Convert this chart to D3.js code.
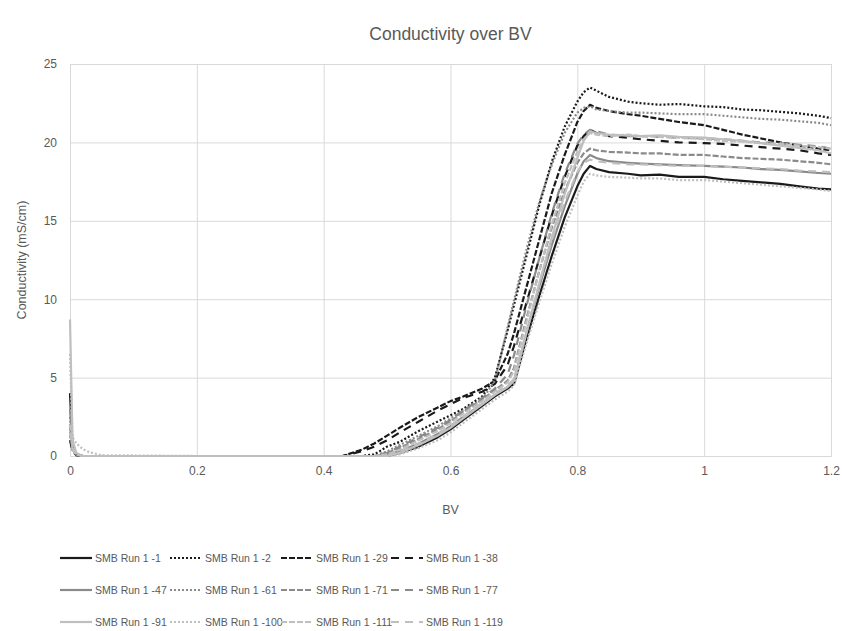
<!DOCTYPE html>
<html>
<head>
<meta charset="utf-8">
<script src="https://cdn.jsdelivr.net/npm/d3@7"></script>
<style>
  body { margin: 0; background: #fff; }
  text { font-family: "Liberation Sans", Arial, sans-serif; fill: #595959; }
</style>
</head>
<body>
<svg width="842" height="631"></svg>
<script>
// BV sample points shared by every run
const bv = [0, 0.004, 0.01, 0.02, 0.03, 0.05, 0.2, 0.4, 0.43, 0.46, 0.48, 0.5, 0.52, 0.55, 0.58, 0.6, 0.62, 0.65, 0.67, 0.69, 0.7,
  0.72, 0.74, 0.76, 0.78, 0.8, 0.81, 0.82, 0.83, 0.85, 0.88, 0.9, 0.93, 0.96, 1.0, 1.03, 1.06, 1.09, 1.12, 1.15, 1.18, 1.2];

// conductivity (mS/cm) per run
const run1 = [4.0, 0.6, 0.1, 0, 0, 0, 0, 0, 0, 0, 0, 0, 0.2, 0.6, 1.2, 1.7, 2.3, 3.2, 3.8, 4.3, 4.6,
  7.5, 10.2, 12.8, 15.2, 17.2, 18.0, 18.5, 18.3, 18.1, 18.0, 17.9, 17.95, 17.8, 17.8, 17.65, 17.55, 17.45, 17.35, 17.2, 17.05, 17.0];
const run2 = [1.5, 0.4, 0.05, 0, 0, 0, 0, 0, 0, 0, 0.1, 0.6, 0.9, 1.6, 2.2, 2.6, 3.0, 3.8, 5.0, 8.0, 9.6,
  12.8, 16.0, 18.8, 21.0, 22.6, 23.2, 23.5, 23.3, 22.9, 22.6, 22.5, 22.4, 22.45, 22.3, 22.25, 22.1, 22.05, 21.95, 21.85, 21.7, 21.55];
const run29 = [2.0, 0.5, 0.05, 0, 0, 0, 0, 0, 0, 0.4, 0.8, 1.3, 1.8, 2.5, 3.1, 3.5, 3.8, 4.3, 4.8, 6.5, 7.8,
  10.8, 13.8, 16.8, 19.2, 21.3, 22.0, 22.4, 22.2, 22.0, 21.8, 21.7, 21.5, 21.3, 21.1, 20.8, 20.5, 20.25, 20.0, 19.8, 19.6, 19.5];
const run38 = [1.0, 0.3, 0.05, 0, 0, 0, 0, 0, 0, 0.3, 0.6, 1.0, 1.5, 2.2, 2.9, 3.3, 3.7, 4.1, 4.6, 5.8, 7.0,
  9.8, 12.6, 15.4, 17.8, 19.8, 20.4, 20.8, 20.6, 20.4, 20.3, 20.2, 20.1, 20.0, 19.95, 19.9, 19.8, 19.7, 19.6, 19.5, 19.3, 19.2];
const run47 = [3.0, 0.5, 0.1, 0, 0, 0, 0, 0, 0, 0, 0, 0.1, 0.3, 0.8, 1.4, 1.9, 2.5, 3.3, 3.9, 4.4, 4.8,
  7.9, 10.8, 13.5, 15.9, 18.0, 18.8, 19.2, 19.0, 18.8, 18.7, 18.65, 18.6, 18.55, 18.5, 18.45, 18.4, 18.3, 18.25, 18.15, 18.05, 18.0];
const run61 = [2.5, 0.4, 0.05, 0, 0, 0, 0, 0, 0, 0, 0, 0.3, 0.7, 1.3, 1.9, 2.4, 2.9, 3.6, 4.8, 8.2, 9.9,
  13.2, 16.2, 18.6, 20.6, 21.9, 22.2, 22.3, 22.1, 22.0, 21.9, 21.9, 21.85, 21.8, 21.8, 21.7, 21.6, 21.5, 21.45, 21.35, 21.25, 21.1];
const run71 = [1.5, 0.4, 0.05, 0, 0, 0, 0, 0, 0, 0, 0, 0.2, 0.5, 1.1, 1.7, 2.2, 2.8, 3.6, 4.2, 4.8, 5.6,
  8.8, 11.8, 14.6, 16.9, 18.7, 19.3, 19.6, 19.5, 19.4, 19.35, 19.3, 19.3, 19.2, 19.2, 19.1, 19.0, 18.95, 18.9, 18.8, 18.7, 18.6];
const run77 = [2.0, 0.5, 0.1, 0, 0, 0, 0, 0, 0, 0, 0, 0.2, 0.6, 1.2, 1.8, 2.3, 2.9, 3.7, 4.3, 5.2, 6.4,
  9.6, 12.6, 15.5, 18.0, 19.9, 20.5, 20.8, 20.7, 20.5, 20.4, 20.4, 20.35, 20.3, 20.25, 20.2, 20.1, 20.0, 19.95, 19.85, 19.75, 19.6];
const run91 = [8.7, 1.0, 0.2, 0, 0, 0, 0, 0, 0, 0, 0, 0, 0.2, 0.7, 1.3, 1.8, 2.4, 3.3, 3.9, 4.4, 4.8,
  7.9, 11.0, 14.0, 16.7, 19.0, 20.1, 20.7, 20.6, 20.5, 20.45, 20.4, 20.45, 20.35, 20.3, 20.2, 20.1, 19.95, 19.8, 19.65, 19.5, 19.3];
const run100 = [6.5, 1.2, 0.8, 0.45, 0.25, 0.05, 0, 0, 0, 0, 0, 0, 0.1, 0.5, 1.0, 1.5, 2.1, 3.0, 3.6, 4.1, 4.5,
  7.2, 9.8, 12.3, 14.6, 16.6, 17.5, 18.0, 17.9, 17.8, 17.75, 17.7, 17.7, 17.6, 17.6, 17.5, 17.4, 17.3, 17.2, 17.1, 17.0, 16.9];
const run111 = [2.0, 0.5, 0.1, 0, 0, 0, 0, 0, 0, 0, 0, 0.1, 0.4, 1.0, 1.6, 2.1, 2.7, 3.5, 4.1, 4.7, 5.4,
  8.6, 11.8, 14.8, 17.4, 19.4, 20.2, 20.6, 20.5, 20.4, 20.5, 20.4, 20.35, 20.3, 20.2, 20.1, 20.05, 19.95, 19.9, 19.8, 19.7, 19.6];
const run119 = [1.5, 0.4, 0.05, 0, 0, 0, 0, 0, 0, 0, 0, 0, 0.3, 0.8, 1.4, 1.9, 2.5, 3.4, 4.0, 4.5, 4.9,
  8.0, 11.0, 13.8, 16.2, 18.1, 18.7, 18.9, 18.8, 18.7, 18.6, 18.6, 18.55, 18.5, 18.5, 18.45, 18.4, 18.35, 18.3, 18.2, 18.15, 18.1];

const seriesNames = ["SMB Run 1 -1", "SMB Run 1 -2", "SMB Run 1 -29", "SMB Run 1 -38",
  "SMB Run 1 -47", "SMB Run 1 -61", "SMB Run 1 -71", "SMB Run 1 -77",
  "SMB Run 1 -91", "SMB Run 1 -100", "SMB Run 1 -111", "SMB Run 1 -119"];
const seriesValues = [run1, run2, run29, run38, run47, run61, run71, run77, run91, run100, run111, run119];

const xTicks = [0, 0.2, 0.4, 0.6, 0.8, 1, 1.2];
const yTicks = [0, 5, 10, 15, 20, 25];

// looks: three greys x four dash kinds
const shades = ["#1a1a1a", "#8a8a8a", "#bfbfbf"];
const dashes = ["none", "2 2", "6 2", "8 6"];

const svg = d3.select("svg");
const margin = {top: 64, right: 11, bottom: 175, left: 70};
const width = +svg.attr("width");
const height = +svg.attr("height");

const x = d3.scaleLinear().domain([0, 1.2]).range([margin.left, width - margin.right]);
const y = d3.scaleLinear().domain([0, 25]).range([height - margin.bottom, margin.top]);

// gridlines + tick labels
svg.append("g")
  .attr("transform", `translate(0,${height - margin.bottom})`)
  .attr("font-size", 12).attr("font-family", null)
  .call(d3.axisBottom(x).tickValues(xTicks).tickSize(-(height - margin.top - margin.bottom)).tickFormat(d3.format("~g")).tickPadding(10))
  .call(g => g.select(".domain").attr("stroke", "#d9d9d9"))
  .call(g => g.selectAll("line").attr("stroke", "#d9d9d9"))
  .call(g => g.selectAll("text").attr("fill", "#595959"));

svg.append("g")
  .attr("transform", `translate(${margin.left},0)`)
  .call(d3.axisLeft(y).tickValues(yTicks).tickSize(-(width - margin.left - margin.right)).tickPadding(13))
  .call(g => g.select(".domain").remove())
  .call(g => g.selectAll("line").attr("stroke", "#d9d9d9"))
  .call(g => g.selectAll("text").attr("fill", "#595959"));
svg.selectAll(".tick text").style("font-size", "12px");

const line = d3.line()
  .x((d, i) => x(bv[i]))
  .y(d => y(d));

svg.append("g")
  .selectAll("path")
  .data(seriesValues)
  .join("path")
  .attr("fill", "none")
  .attr("stroke", (d, i) => shades[Math.floor(i / 4)])
  .attr("stroke-dasharray", (d, i) => dashes[i % 4])
  .attr("stroke-width", 2.2)
  .attr("stroke-linejoin", "round")
  .attr("d", line);

// titles
svg.append("text")
  .attr("x", (x(0) + x(1.2)) / 2).attr("y", 40)
  .attr("text-anchor", "middle").style("font-size", "17.5px")
  .text("Conductivity over BV");

svg.append("text")
  .attr("x", (x(0) + x(1.2)) / 2).attr("y", 514)
  .attr("text-anchor", "middle").style("font-size", "12.5px")
  .text("BV");

svg.append("text")
  .attr("transform", `translate(26,${(y(0) + y(25)) / 2}) rotate(-90)`)
  .attr("text-anchor", "middle").style("font-size", "12.5px")
  .text("Conductivity (mS/cm)");

// legend
const legX = [60, 170, 281, 391];
const legY = [558, 590, 622];
const leg = svg.append("g")
  .selectAll("g")
  .data(seriesNames)
  .join("g")
  .attr("transform", (d, i) => `translate(${legX[i % 4]},${legY[Math.floor(i / 4)]})`);

leg.append("line")
  .attr("x1", 0).attr("x2", 32)
  .attr("stroke", (d, i) => shades[Math.floor(i / 4)])
  .attr("stroke-dasharray", (d, i) => dashes[i % 4])
  .attr("stroke-width", 2.2);

leg.append("text")
  .attr("x", 35).attr("dy", "0.35em")
  .style("font-size", "10.5px")
  .text(d => d);
</script>
</body>
</html>
